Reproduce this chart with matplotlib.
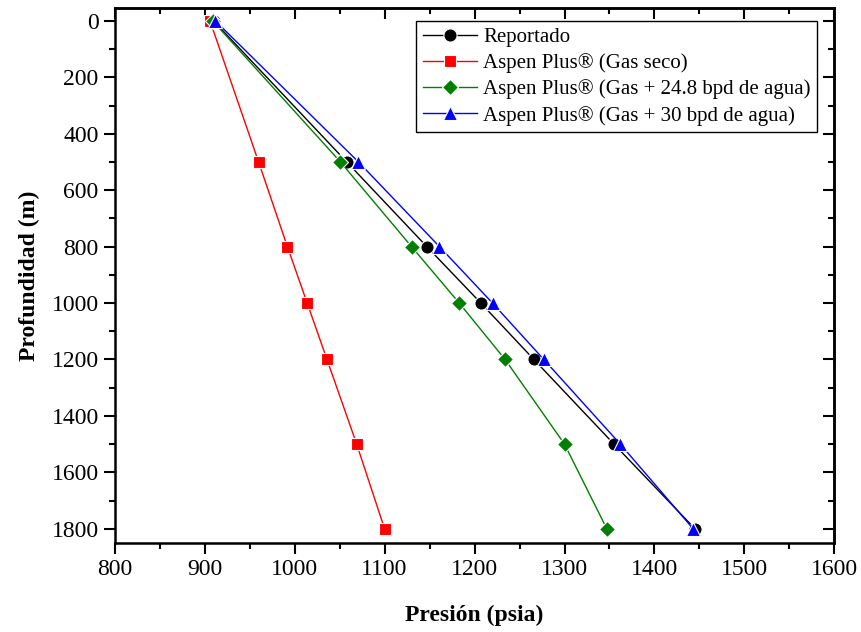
import matplotlib
matplotlib.use("Agg")
import matplotlib.pyplot as plt
from matplotlib.ticker import MultipleLocator

depth = [0, 500, 800, 1000, 1200, 1500, 1800]
reportado = [910, 1058, 1147, 1207, 1266, 1355, 1445]
gas_seco = [906, 960, 992, 1014, 1036, 1069, 1100]
gas_248 = [909, 1051, 1130, 1183, 1234, 1300, 1347]
gas_30 = [912, 1071, 1161, 1220, 1277, 1362, 1443]

series = [
    ("Reportado", reportado, "black", "o", 9.5),
    ("Aspen Plus® (Gas seco)", gas_seco, "#ff0000", "s", 8.5),
    ("Aspen Plus® (Gas + 24.8 bpd de agua)", gas_248, "#008000", "D", 8),
    ("Aspen Plus® (Gas + 30 bpd de agua)", gas_30, "#0000ff", "^", 10.5),
]

plt.rcParams['font.family'] = ['Liberation Serif', 'DejaVu Serif']

fig = plt.figure(figsize=(8.62, 6.32), dpi=100)
ax = fig.add_axes([0.133, 0.141, 0.835, 0.846])

for name, vals, col, mk, ms in series:
    ax.plot(vals, depth, color=col, lw=1.0, marker=mk, markersize=ms,
            markerfacecolor=col, markeredgecolor='white', markeredgewidth=0.8,
            label=name)

ax.set_xlim(800, 1600)
ax.set_ylim(1850, -45)
ax.xaxis.set_major_locator(MultipleLocator(100))
ax.xaxis.set_minor_locator(MultipleLocator(50))
ax.yaxis.set_major_locator(MultipleLocator(200))
ax.yaxis.set_minor_locator(MultipleLocator(100))

ax.tick_params(axis='both', which='major', labelsize=17, width=1.5, length=8)
ax.tick_params(axis='both', which='minor', width=1.5, length=4.5)
ax.tick_params(axis='both', which='both', direction='out', top=False, right=False)

secx = ax.secondary_xaxis('top')
secx.xaxis.set_major_locator(MultipleLocator(100))
secx.xaxis.set_minor_locator(MultipleLocator(50))
secx.tick_params(which='both', direction='in', labeltop=False, width=1.5)
secx.tick_params(which='major', length=8)
secx.tick_params(which='minor', length=4.5)
secy = ax.secondary_yaxis('right')
secy.yaxis.set_major_locator(MultipleLocator(200))
secy.yaxis.set_minor_locator(MultipleLocator(100))
secy.tick_params(which='both', direction='in', labelright=False, width=1.5)
secy.tick_params(which='major', length=8)
secy.tick_params(which='minor', length=4.5)

for s in ax.spines.values():
    s.set_linewidth(1.8)
secx.spines['top'].set_linewidth(1.8)
secy.spines['right'].set_linewidth(1.8)

ax.set_xlabel("Presión (psia)", fontsize=17, fontweight='bold', labelpad=18)
ax.set_ylabel("Profundidad (m)", fontsize=17, fontweight='bold', labelpad=8)

leg = ax.legend(loc='upper right', fontsize=15, frameon=True, fancybox=False,
                edgecolor='black', framealpha=1, borderpad=0.3, labelspacing=0.3,
                handlelength=2.6, handletextpad=0.3, bbox_to_anchor=(0.99, 0.995))
leg.get_frame().set_linewidth(1.0)

fig.savefig("out.png", dpi=100)
